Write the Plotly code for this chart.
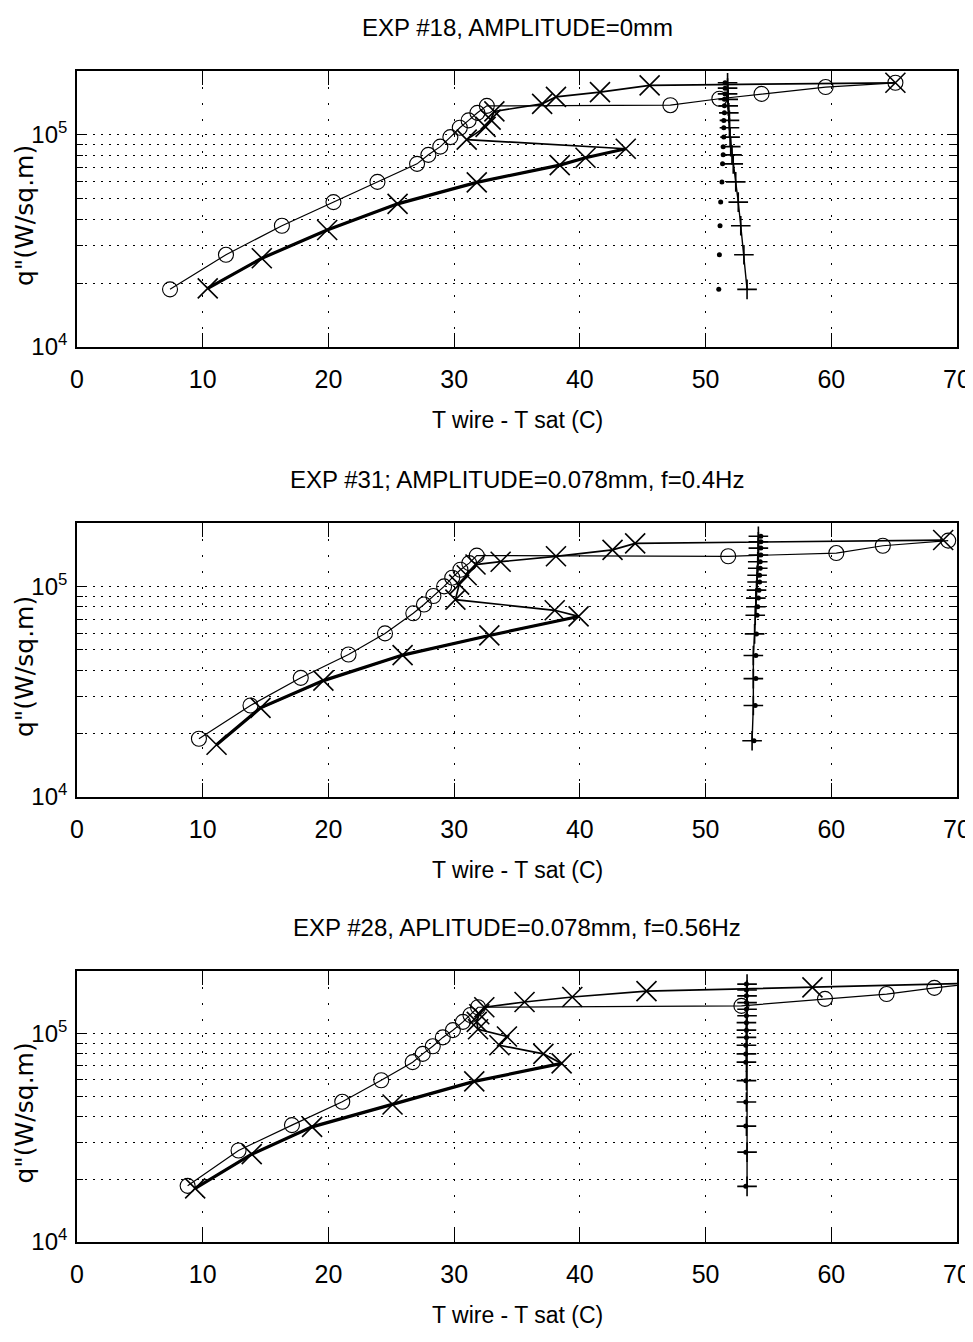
import plotly.graph_objects as go

# ---------------- data ----------------
TITLES = ["EXP #18, AMPLITUDE=0mm",
          "EXP #31; AMPLITUDE=0.078mm, f=0.4Hz",
          "EXP #28, APLITUDE=0.078mm, f=0.56Hz"]
X_LABEL = "T wire - T sat (C)"
Y_LABEL = 'q"(W/sq.m)'
X_TICKS = [0, 10, 20, 30, 40, 50, 60, 70]
Y_MAJOR = [1e4, 1e5]
Y_MAJOR_TEXT = ["10<sup>4</sup>", "10<sup>5</sup>"]
Y_MINOR = [2e4, 3e4, 4e4, 5e4, 6e4, 7e4, 8e4, 9e4]

# Panel 1 (EXP #18)
p1_o_x = [7.4, 11.85, 16.3, 20.4, 23.9, 27.05, 27.95, 28.9, 29.7, 30.45, 31.15, 31.85, 32.6, 47.2, 51.1, 54.45, 59.55, 65.1]
p1_o_y = [1.87e4, 2.72e4, 3.73e4, 4.82e4, 6.0e4, 7.3e4, 8.05e4, 8.8e4, 9.76e4, 1.08e5, 1.17e5, 1.27e5, 1.37e5, 1.38e5, 1.48e5, 1.56e5, 1.68e5, 1.76e5]
p1_x_x = [10.4, 14.7, 19.9, 25.5, 31.8, 38.4, 40.45, 43.65, 31.0, 32.5, 32.9, 33.2, 37.0, 38.1, 41.6, 45.55, 65.1]
p1_x_y = [1.89e4, 2.62e4, 3.56e4, 4.73e4, 5.97e4, 7.2e4, 7.8e4, 8.6e4, 9.5e4, 1.09e5, 1.18e5, 1.29e5, 1.40e5, 1.51e5, 1.59e5, 1.71e5, 1.76e5]
p1_q = [1.87e4, 2.72e4, 3.73e4, 4.82e4, 6.0e4, 7.3e4, 8.05e4, 8.8e4, 9.76e4, 1.08e5, 1.17e5, 1.27e5, 1.37e5, 1.47e5, 1.56e5, 1.66e5, 1.76e5]
p1_plus_x = [53.3, 53.05, 52.8, 52.6, 52.4, 52.2, 52.1, 52.0, 51.95, 51.9, 51.9, 51.85, 51.8, 51.8, 51.75, 51.75, 51.75]
p1_dot_x = [51.05, 51.1, 51.15, 51.2, 51.3, 51.35, 51.4, 51.4, 51.45, 51.45, 51.45, 51.5, 51.5, 51.5, 51.55, 51.55, 51.55]

# Panel 2 (EXP #31)
p2_o_x = [9.7, 13.8, 17.8, 21.6, 24.5, 26.75, 27.6, 28.35, 29.2, 29.85, 30.5, 31.2, 31.8, 51.8, 60.4, 64.1, 69.3]
p2_o_y = [1.89e4, 2.72e4, 3.68e4, 4.75e4, 5.98e4, 7.45e4, 8.2e4, 9.0e4, 1.0e5, 1.1e5, 1.2e5, 1.29e5, 1.40e5, 1.39e5, 1.44e5, 1.56e5, 1.65e5]
p2_x_x = [11.1, 14.6, 19.6, 25.9, 32.8, 39.9, 38.0, 30.1, 30.4, 31.0, 31.7, 33.7, 38.1, 42.6, 44.4, 68.9]
p2_x_y = [1.77e4, 2.65e4, 3.57e4, 4.72e4, 5.85e4, 7.2e4, 7.7e4, 8.65e4, 1.02e5, 1.13e5, 1.27e5, 1.31e5, 1.39e5, 1.49e5, 1.60e5, 1.66e5]
p2_q = [1.85e4, 2.72e4, 3.65e4, 4.7e4, 5.95e4, 7.3e4, 8.0e4, 8.8e4, 9.6e4, 1.05e5, 1.13e5, 1.22e5, 1.31e5, 1.41e5, 1.52e5, 1.63e5, 1.73e5]
p2_plus_x = [53.7, 53.8, 53.8, 53.8, 53.9, 53.95, 54.0, 54.0, 54.05, 54.1, 54.1, 54.15, 54.15, 54.2, 54.2, 54.2, 54.2]
p2_dot_x = [53.85, 53.95, 54.0, 54.0, 54.05, 54.1, 54.15, 54.2, 54.25, 54.3, 54.3, 54.35, 54.35, 54.4, 54.4, 54.4, 54.4]

# Panel 3 (EXP #28)
p3_o_x = [8.8, 12.85, 17.1, 21.1, 24.2, 26.7, 27.5, 28.3, 29.1, 29.9, 30.7, 31.3, 31.9, 52.85, 59.5, 64.4, 68.2, 72.0]
p3_o_y = [1.86e4, 2.75e4, 3.64e4, 4.71e4, 5.98e4, 7.3e4, 8.0e4, 8.7e4, 9.6e4, 1.04e5, 1.14e5, 1.23e5, 1.34e5, 1.36e5, 1.47e5, 1.55e5, 1.66e5, 1.76e5]
p3_x_x = [9.4, 13.9, 18.7, 25.1, 31.6, 38.55, 37.1, 33.6, 34.2, 31.9, 31.8, 32.0, 32.4, 35.6, 39.4, 45.3, 58.5, 72.0]
p3_x_y = [1.81e4, 2.64e4, 3.57e4, 4.57e4, 5.9e4, 7.2e4, 8.0e4, 8.8e4, 9.7e4, 1.05e5, 1.14e5, 1.24e5, 1.34e5, 1.42e5, 1.50e5, 1.60e5, 1.67e5, 1.75e5]
p3_q = [1.85e4, 2.7e4, 3.6e4, 4.7e4, 5.95e4, 7.3e4, 8.0e4, 8.8e4, 9.6e4, 1.04e5, 1.13e5, 1.22e5, 1.31e5, 1.41e5, 1.52e5, 1.62e5, 1.73e5]
p3_plus_x = [53.3, 53.3, 53.25, 53.25, 53.25, 53.25, 53.25, 53.25, 53.25, 53.25, 53.25, 53.3, 53.3, 53.3, 53.3, 53.3, 53.3]
p3_dot_x = [53.2, 53.2, 53.2, 53.2, 53.2, 53.2, 53.2, 53.2, 53.25, 53.25, 53.25, 53.25, 53.25, 53.25, 53.25, 53.25, 53.25]

# number of leading points of each x-series drawn with the heavy (double) line
HEAVY_N = [8, 6, 6]

PANELS = [
    (p1_o_x, p1_o_y, p1_x_x, p1_x_y, p1_q, p1_plus_x, p1_dot_x),
    (p2_o_x, p2_o_y, p2_x_x, p2_x_y, p2_q, p2_plus_x, p2_dot_x),
    (p3_o_x, p3_o_y, p3_x_x, p3_x_y, p3_q, p3_plus_x, p3_dot_x),
]

# ---------------- layout ----------------
# the page body adds an 8px margin, so the figure is laid out smaller
OFF = 8
PAGE_W, PAGE_H = 973, 1342
W, H = PAGE_W - OFF, PAGE_H - 2 * OFF - 6
ML, MR, MT = 77 - OFF, 16, 71 - OFF
PLOT_BOTTOM = 1242
MB = (OFF + H) - PLOT_BOTTOM
PH = H - MT - MB
PANEL_PX = [(71, 347), (523, 797), (971, 1242)]  # top, bottom in page pixels

SANS = "Liberation Sans, Arial, Helvetica, sans-serif"
WIDE = "DejaVu Sans, Verdana, sans-serif"
BLACK = "#000000"

fig = go.Figure()
layout = dict(
    width=W, height=H,
    margin=dict(l=ML, r=MR, t=MT, b=MB, pad=0, autoexpand=False),
    paper_bgcolor="white", plot_bgcolor="white",
    showlegend=False,
    font=dict(family=SANS, size=25, color=BLACK),
)
annotations = []

for i, (ox, oy, xx, xy, q, px, dx) in enumerate(PANELS):
    n = "" if i == 0 else str(i + 1)
    xa, ya = "x" + n, "y" + n
    top, bot = PANEL_PX[i]
    dom = [(PLOT_BOTTOM - bot) / PH, (PLOT_BOTTOM - top) / PH]
    k = HEAVY_N[i]

    # heavy double line under the x-series
    fig.add_trace(go.Scatter(x=xx[:k], y=xy[:k], mode="lines",
                             line=dict(color=BLACK, width=3.2), xaxis=xa, yaxis=ya,
                             hoverinfo="skip"))
    # circle series
    fig.add_trace(go.Scatter(x=ox, y=oy, mode="lines+markers",
                             line=dict(color=BLACK, width=1.2),
                             marker=dict(symbol="circle-open", size=15, color=BLACK,
                                         line=dict(width=1.1, color=BLACK)),
                             xaxis=xa, yaxis=ya))
    # x series
    fig.add_trace(go.Scatter(x=xx, y=xy, mode="lines+markers",
                             line=dict(color=BLACK, width=1.7),
                             marker=dict(symbol="x-thin-open", size=20, color=BLACK,
                                         line=dict(width=1.6, color=BLACK)),
                             xaxis=xa, yaxis=ya))
    # plus series
    fig.add_trace(go.Scatter(x=px, y=q, mode="lines+markers",
                             line=dict(color=BLACK, width=1.4),
                             marker=dict(symbol="cross-thin-open", size=14, color=BLACK,
                                         line=dict(width=1.6, color=BLACK)),
                             xaxis=xa, yaxis=ya))
    # dot series
    fig.add_trace(go.Scatter(x=dx, y=q, mode="markers",
                             marker=dict(symbol="circle", size=5, color=BLACK),
                             xaxis=xa, yaxis=ya))

    layout["xaxis" + n] = dict(
        domain=[0, 1], anchor=ya, range=[0, 70], automargin=False,
        tickvals=X_TICKS, ticks="inside", ticklen=14, tickwidth=1.3, tickcolor=BLACK,
        ticklabelstandoff=9, ticklabeloverflow="allow",
        showline=True, linecolor=BLACK, linewidth=1.6, mirror="ticks",
        showgrid=True, gridcolor=BLACK, gridwidth=1.3, griddash="2px,14px",
        zeroline=False, tickfont=dict(family=SANS, size=25, color=BLACK),
    )
    layout["yaxis" + n] = dict(
        domain=dom, anchor=xa, type="log", range=[4, 5.30103], automargin=False,
        tickvals=Y_MAJOR, ticktext=Y_MAJOR_TEXT,
        ticks="inside", ticklen=10, tickwidth=1.3, tickcolor=BLACK,
        ticklabelstandoff=3,
        showline=True, linecolor=BLACK, linewidth=1.6, mirror="ticks",
        showgrid=True, gridcolor=BLACK, gridwidth=1.3, griddash="2px,6px",
        zeroline=False, tickfont=dict(family=SANS, size=24, color=BLACK),
        minor=dict(tickvals=Y_MINOR, ticks="inside", ticklen=6, tickwidth=1.2,
                   tickcolor=BLACK, showgrid=True, gridcolor=BLACK, gridwidth=1.3,
                   griddash="2px,6px"),
    )

    annotations.append(dict(text=TITLES[i], xref=xa + " domain", yref=ya + " domain",
                            x=0.5, y=1, yshift=44, showarrow=False, xanchor="center",
                            yanchor="middle", font=dict(family=SANS, size=24, color=BLACK)))
    annotations.append(dict(text=X_LABEL, xref=xa + " domain", yref=ya + " domain",
                            x=0.5, y=0, yshift=-73, showarrow=False, xanchor="center",
                            yanchor="middle", font=dict(family=SANS, size=23, color=BLACK)))
    annotations.append(dict(text=Y_LABEL, xref="paper", yref=ya + " domain",
                            x=0, xshift=-53, y=0.5, yshift=-7, showarrow=False, textangle=-90,
                            xanchor="center", yanchor="middle", borderpad=0,
                            font=dict(family=WIDE, size=25, color=BLACK)))

layout["annotations"] = annotations
fig.update_layout(**layout)
fig.write_html("out.html")
